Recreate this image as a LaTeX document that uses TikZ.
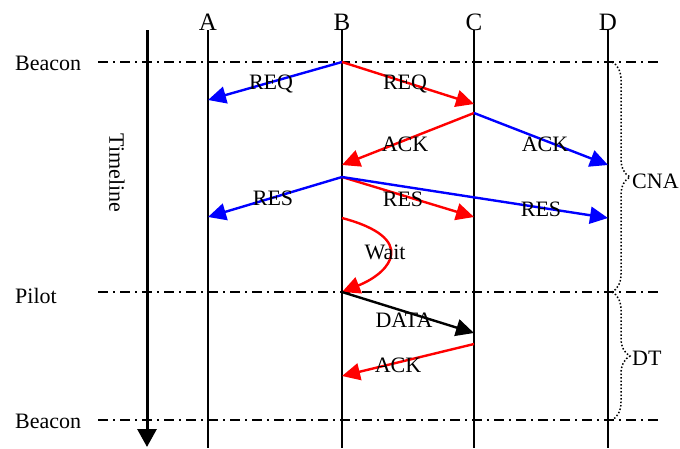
\documentclass[tikz,border=0pt]{standalone}
\usepackage{fontspec}
\setmainfont{Liberation Serif}
\usetikzlibrary{arrows.meta,decorations.pathreplacing}
\begin{document}
\begin{tikzpicture}[x=1pt,y=-1pt,
  lbl/.style={font=\fontsize{22}{24}\selectfont, inner sep=0pt},
  hdr/.style={font=\fontsize{25}{28}\selectfont, inner sep=0pt},
  life/.style={line width=2pt},
  slot/.style={line width=1.6pt, dash pattern=on 10pt off 5pt on 2pt off 5pt},
  msg/.style={line width=2.4pt, -{Triangle[length=18pt,width=17pt]}},
  brc/.style={dotted, line width=1.5pt, decorate, decoration={brace, amplitude=18pt}}]
\useasboundingbox (0,0) rectangle (680,448);
% headers
\node[hdr] (hA) at (208,22) {A};
\node[hdr] (hB) at (342,22) {B};
\node[hdr] (hC) at (474,22) {C};
\node[hdr] (hD) at (608,22) {D};
% lifelines
\coordinate (Atop) at (208,30); \coordinate (Abot) at (208,448);
\coordinate (Btop) at (342,30); \coordinate (Bbot) at (342,448);
\coordinate (Ctop) at (474,30); \coordinate (Cbot) at (474,448);
\coordinate (Dtop) at (608,30); \coordinate (Dbot) at (608,448);
\draw[life] (Atop) -- (Abot);
\draw[life] (Btop) -- (Bbot);
\draw[life] (Ctop) -- (Cbot);
\draw[life] (Dtop) -- (Dbot);
% timeline
\coordinate (Ttop) at (147,30); \coordinate (Tbot) at (147,447);
\draw[line width=3pt, -{Triangle[length=18pt,width=19pt]}] (Ttop) -- (Tbot);
\node[lbl, rotate=-90] (tl) at (117,173) {Timeline};
% slot lines
\node[lbl, anchor=west] (b1) at (15,63) {Beacon};
\node[lbl, anchor=west] (p1) at (15,296) {Pilot};
\node[lbl, anchor=west] (b2) at (15,421) {Beacon};
\coordinate (s1l) at (98,62); \coordinate (s1r) at (660,62);
\coordinate (s2l) at (98,292); \coordinate (s2r) at (660,292);
\coordinate (s3l) at (98,420); \coordinate (s3r) at (660,420);
\draw[slot] (s1l) -- (s1r);
\draw[slot] (s2l) -- (s2r);
\draw[slot] (s3l) -- (s3r);
% message points
\coordinate (B1) at (342,62);
\coordinate (A1) at (208,100);
\coordinate (C1) at (474,104);
\coordinate (C2) at (474,113);
\coordinate (B2) at (342,165);
\coordinate (D2) at (608,165);
\coordinate (B3) at (342,177);
\coordinate (A3) at (208,217);
\coordinate (C3) at (474,217);
\coordinate (D3) at (608,218);
\coordinate (B4) at (342,218);
\coordinate (B5) at (342,292);
\coordinate (C5) at (474,333);
\coordinate (C6) at (474,344);
\coordinate (B6) at (342,376);
% messages
\draw[msg, blue] (B1) -- (A1);
\draw[msg, red] (B1) -- (C1);
\draw[msg, red] (C2) -- (B2);
\draw[msg, blue] (C2) -- (D2);
\draw[msg, blue] (B3) -- (A3);
\draw[msg, red] (B3) -- (C3);
\draw[msg, blue] (B3) -- (D3);
\draw[msg, red] (B4) .. controls (418,238) and (392,272) .. (B5);
\draw[msg, black] (B5) -- (C5);
\draw[msg, red] (C6) -- (B6);
% labels
\node[lbl] (l1) at (271,84) {REQ};
\node[lbl] (l2) at (405,84) {REQ};
\node[lbl] (l3) at (405,144) {ACK};
\node[lbl] (l4) at (545,144) {ACK};
\node[lbl] (l5) at (273,198) {RES};
\node[lbl] (l6) at (403,199) {RES};
\node[lbl] (l7) at (541,209) {RES};
\node[lbl] (l8) at (385,252) {Wait};
\node[lbl] (l9) at (404,320) {DATA};
\node[lbl] (l10) at (398,365) {ACK};
% braces
\coordinate (r1) at (612,62); \coordinate (r2) at (612,292); \coordinate (r3) at (612,420);
\draw[brc] (r1) -- (r2);
\draw[brc] (r2) -- (r3);
\node[lbl, anchor=west] (cna) at (632,181) {CNA};
\node[lbl, anchor=west] (dt) at (632,358) {DT};
\end{tikzpicture}
\end{document}
